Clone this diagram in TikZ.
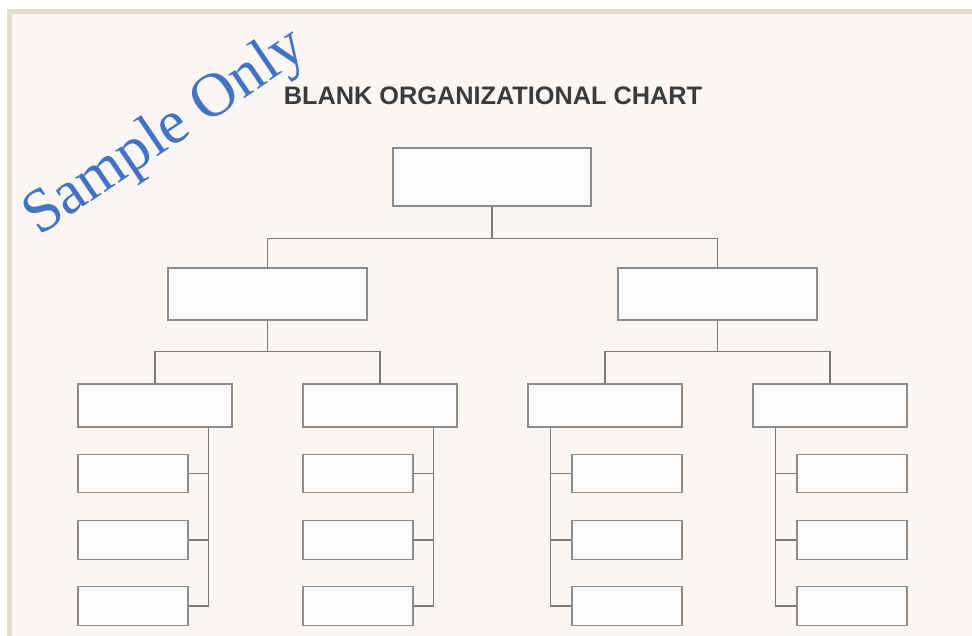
\documentclass[tikz,border=0pt]{standalone}
\usepackage{fontspec}
\usepackage{tikz}
\usetikzlibrary{calc}
\newfontfamily\titlefont{Liberation Sans}
\newfontfamily\markfont{Liberation Serif}
\definecolor{paper}{HTML}{F9F6F3}
\definecolor{rim}{HTML}{E2DBD2}
\definecolor{boxline}{HTML}{8C8C8C}
\definecolor{linkline}{HTML}{7A7A7A}
\definecolor{titlegray}{HTML}{3B3B3B}
\definecolor{markblue}{HTML}{4472C4}

\begin{document}
\begin{tikzpicture}[x=1pt,y=-1pt,
    orgbox/.style={draw=boxline, fill=white!60!paper, line width=1.1pt, inner sep=0pt},
    subbox/.style={orgbox, minimum width=110pt, minimum height=38.5pt},
    link/.style={draw=linkline, line width=1.1pt}]
  % Fondo y marco
  \fill[white] (0,0) rectangle (972,636);
  \fill[rim] (7,9) rectangle (972,636);
  \fill[paper] (12,14) rectangle (972,636);
  \useasboundingbox (0,0) rectangle (972,636);

  % Titulo
  \node[anchor=base, text=titlegray, font=\titlefont\bfseries\fontsize{25.3}{30}\selectfont]
    (title) at (493,105) {BLANK ORGANIZATIONAL CHART};

  % Cajas: nivel 1 y 2
  \node[orgbox, minimum width=198pt, minimum height=58pt] (top) at (492,177) {};
  \node[orgbox, minimum width=199pt, minimum height=52pt] (mgrL) at (267.5,294) {};
  \node[orgbox, minimum width=199pt, minimum height=52pt] (mgrR) at (717.5,294) {};

  % Cajas: nivel 3
  \foreach \g/\gx in {1/155,2/380,3/605,4/830}
    \node[orgbox, minimum width=154pt, minimum height=43pt] (grp\g) at (\gx,405.5) {};

  % Subcajas (izquierda alineadas a la izquierda, derecha a la derecha)
  \foreach \g/\sx in {1/133,2/358,3/627,4/852}
    \foreach \k/\sy in {1/473.5,2/540,3/606}
      \node[subbox] (sub\g\k) at (\sx,\sy) {};

  % Conectores nivel 1 -> 2
  \draw[link] (top.south) -- ++(0,32) coordinate (hubTop);
  \draw[link] (hubTop) -| (mgrL.north);
  \draw[link] (hubTop) -| (mgrR.north);

  % Conectores nivel 2 -> 3
  \draw[link] (mgrL.south) -- ++(0,31) coordinate (hubL);
  \draw[link] (hubL) -| (grp1.north);
  \draw[link] (hubL) -| (grp2.north);
  \draw[link] (mgrR.south) -- ++(0,31) coordinate (hubR);
  \draw[link] (hubR) -| (grp3.north);
  \draw[link] (hubR) -| (grp4.north);

  % Lineas verticales hacia las subcajas
  \foreach \g in {1,2} {
    \coordinate (spine\g) at ($(grp\g.south west)+(131,0)$);
    \draw[link] (spine\g) |- (sub\g3.east);
    \foreach \k in {1,2}
      \draw[link] (sub\g\k.east) -- (sub\g\k.east -| spine\g);
  }
  \foreach \g in {3,4} {
    \coordinate (spine\g) at ($(grp\g.south west)+(23,0)$);
    \draw[link] (spine\g) |- (sub\g3.west);
    \foreach \k in {1,2}
      \draw[link] (sub\g\k.west) -- (sub\g\k.west -| spine\g);
  }

  % Marca de agua
  \node[anchor=base west, rotate=34, inner sep=0pt, text=markblue,
        font=\markfont\fontsize{62}{72}\selectfont] (mark) at (39,237) {Sample Only};
\end{tikzpicture}
\end{document}
